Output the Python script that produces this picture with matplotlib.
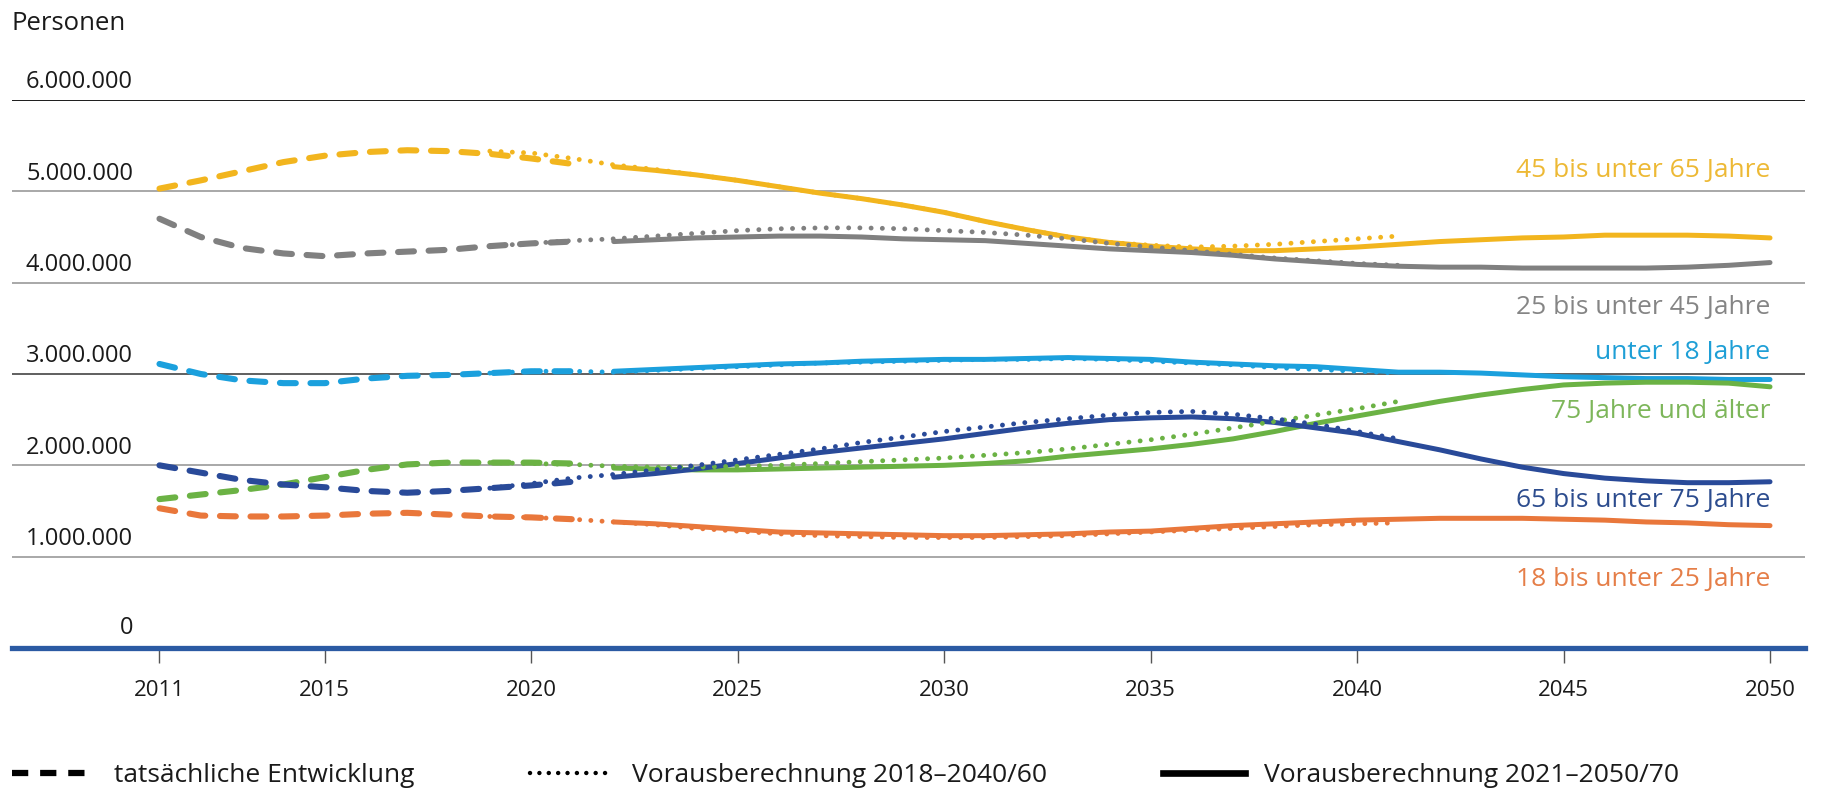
import matplotlib
matplotlib.use("Agg")
import matplotlib.pyplot as plt
from matplotlib.lines import Line2D

plt.rcParams['font.family'] = ['Open Sans', 'DejaVu Sans']

# ---------------- data ----------------
years_actual = list(range(2011, 2022))      # tatsächliche Entwicklung
years_proj18 = list(range(2019, 2042))      # Vorausberechnung 2018–2040/60
years_proj21 = list(range(2022, 2051))      # Vorausberechnung 2021–2050/70

series_names = ["45 bis unter 65 Jahre", "25 bis unter 45 Jahre", "unter 18 Jahre",
                "75 Jahre und älter", "65 bis unter 75 Jahre", "18 bis unter 25 Jahre"]

# values in millions of persons
actual_45_65 = [5.03, 5.12, 5.22, 5.32, 5.39, 5.43, 5.45, 5.44, 5.41, 5.36, 5.30]
actual_25_45 = [4.70, 4.50, 4.38, 4.32, 4.29, 4.32, 4.34, 4.36, 4.40, 4.43, 4.45]
actual_u18   = [3.11, 3.00, 2.93, 2.90, 2.90, 2.95, 2.98, 2.99, 3.01, 3.03, 3.03]
actual_75p   = [1.63, 1.68, 1.73, 1.79, 1.87, 1.95, 2.01, 2.03, 2.03, 2.03, 2.02]
actual_65_75 = [2.00, 1.92, 1.84, 1.79, 1.76, 1.72, 1.70, 1.72, 1.75, 1.78, 1.82]
actual_18_25 = [1.53, 1.45, 1.44, 1.44, 1.45, 1.47, 1.48, 1.46, 1.44, 1.43, 1.41]

proj18_45_65 = [5.44, 5.42, 5.36, 5.29, 5.24, 5.18, 5.12, 5.05, 4.98, 4.92, 4.85, 4.77,
                4.67, 4.58, 4.50, 4.44, 4.41, 4.39, 4.40, 4.42, 4.45, 4.48, 4.51]
proj18_25_45 = [4.40, 4.43, 4.46, 4.48, 4.51, 4.54, 4.57, 4.59, 4.60, 4.60, 4.59, 4.57,
                4.55, 4.52, 4.48, 4.43, 4.39, 4.35, 4.31, 4.27, 4.24, 4.21, 4.19]
proj18_u18   = [3.01, 3.03, 3.03, 3.02, 3.04, 3.06, 3.08, 3.10, 3.12, 3.13, 3.14, 3.15,
                3.16, 3.16, 3.17, 3.16, 3.14, 3.12, 3.10, 3.07, 3.05, 3.03, 3.01]
proj18_75p   = [2.03, 2.02, 2.01, 1.99, 1.98, 1.98, 1.99, 2.00, 2.02, 2.04, 2.06, 2.08,
                2.11, 2.14, 2.18, 2.23, 2.28, 2.34, 2.41, 2.48, 2.55, 2.62, 2.70]
proj18_65_75 = [1.75, 1.80, 1.86, 1.90, 1.95, 2.00, 2.06, 2.12, 2.18, 2.25, 2.31, 2.37,
                2.42, 2.47, 2.51, 2.55, 2.58, 2.59, 2.56, 2.51, 2.45, 2.37, 2.29]
proj18_18_25 = [1.44, 1.43, 1.41, 1.38, 1.35, 1.31, 1.28, 1.25, 1.23, 1.22, 1.21, 1.21,
                1.21, 1.22, 1.23, 1.25, 1.27, 1.29, 1.31, 1.33, 1.35, 1.36, 1.37]

proj21_45_65 = [5.27, 5.23, 5.18, 5.12, 5.05, 4.98, 4.92, 4.85, 4.77, 4.67, 4.58, 4.50,
                4.44, 4.40, 4.37, 4.35, 4.35, 4.37, 4.39, 4.42, 4.45, 4.47, 4.49, 4.50,
                4.52, 4.52, 4.52, 4.51, 4.49]
proj21_25_45 = [4.45, 4.47, 4.49, 4.50, 4.51, 4.51, 4.50, 4.48, 4.47, 4.46, 4.43, 4.40,
                4.37, 4.35, 4.33, 4.30, 4.26, 4.23, 4.20, 4.18, 4.17, 4.17, 4.16, 4.16,
                4.16, 4.16, 4.17, 4.19, 4.22]
proj21_u18   = [3.03, 3.05, 3.07, 3.09, 3.11, 3.12, 3.14, 3.15, 3.16, 3.16, 3.17, 3.18,
                3.17, 3.16, 3.13, 3.11, 3.09, 3.08, 3.05, 3.02, 3.02, 3.01, 2.99, 2.97,
                2.96, 2.95, 2.95, 2.94, 2.94]
proj21_75p   = [1.97, 1.96, 1.95, 1.95, 1.96, 1.97, 1.98, 1.99, 2.00, 2.02, 2.05, 2.10,
                2.14, 2.18, 2.23, 2.29, 2.37, 2.46, 2.54, 2.62, 2.70, 2.77, 2.83, 2.88,
                2.90, 2.91, 2.91, 2.90, 2.86]
proj21_65_75 = [1.87, 1.91, 1.96, 2.02, 2.08, 2.14, 2.19, 2.24, 2.29, 2.35, 2.41, 2.46,
                2.50, 2.52, 2.53, 2.51, 2.47, 2.41, 2.35, 2.26, 2.17, 2.07, 1.98, 1.91,
                1.86, 1.83, 1.81, 1.81, 1.82]
proj21_18_25 = [1.38, 1.36, 1.33, 1.30, 1.27, 1.26, 1.25, 1.24, 1.23, 1.23, 1.24, 1.25,
                1.27, 1.28, 1.31, 1.34, 1.36, 1.38, 1.40, 1.41, 1.42, 1.42, 1.42, 1.41,
                1.40, 1.38, 1.37, 1.35, 1.34]

label_y = [5.23, 3.73, 3.24, 2.59, 1.62, 0.75]   # position of right-hand labels (millions)

x_ticks = [2011, 2015, 2020, 2025, 2030, 2035, 2040, 2045, 2050]
y_ticks = [0, 1, 2, 3, 4, 5, 6]
y_tick_labels = ["0", "1.000.000", "2.000.000", "3.000.000", "4.000.000", "5.000.000", "6.000.000"]
legend_labels = ["tatsächliche Entwicklung", "Vorausberechnung 2018–2040/60",
                 "Vorausberechnung 2021–2050/70"]

colors = ["#F2B51E", "#808080", "#1BA0DD", "#6BB244", "#294A99", "#E9773B"]
label_colors = ["#EDB935", "#858585", "#1E9FD6", "#7DB65A", "#2C4C8E", "#E57E48"]

actual = [actual_45_65, actual_25_45, actual_u18, actual_75p, actual_65_75, actual_18_25]
proj18 = [proj18_45_65, proj18_25_45, proj18_u18, proj18_75p, proj18_65_75, proj18_18_25]
proj21 = [proj21_45_65, proj21_25_45, proj21_u18, proj21_75p, proj21_65_75, proj21_18_25]

# ---------------- figure ----------------
W, H = 1825, 791
fig = plt.figure(figsize=(W / 100, H / 100), dpi=100)
ax_left, ax_right, ax_bottom, ax_top = 12, 1805, 648, 100
ax = fig.add_axes([ax_left / W, 1 - ax_bottom / H, (ax_right - ax_left) / W, (ax_bottom - ax_top) / H])

px_per_year = 41.3
ax.set_xlim(2011 - (159.5 - ax_left) / px_per_year, 2050 + (ax_right - 1770) / px_per_year)
ax.set_ylim(0, 6)

# gridlines
for v in y_ticks[1:]:
    if v == 6:
        c, lw = "#1a1a1a", 1.4
    elif v == 3:
        c, lw = "#444444", 1.2
    else:
        c, lw = "#9a9a9a", 1.2
    ax.axhline(v, color=c, lw=lw, zorder=1)

# y labels above gridlines
ylab_x = (133 - ax_left) / (ax_right - ax_left)
for v, t in zip(y_ticks, y_tick_labels):
    ax.annotate(t, xy=(ylab_x, v), xycoords=ax.get_yaxis_transform(),
                xytext=(0, 4 if v > 0 else 6), textcoords="offset points",
                ha="right", va="bottom", fontsize=17, color="#1a1a1a")

dash_style = (0, (2.6, 2.4))
dot_style = (0, (0.01, 2.3))
for i in range(6):
    ax.plot(years_actual, actual[i], color=colors[i], lw=4.4, linestyle=dash_style,
            dash_capstyle="round", zorder=3)
    ax.plot(years_proj21, proj21[i], color=colors[i], lw=3.6, solid_capstyle="round", zorder=3)
    ax.plot(years_proj18, proj18[i], color=colors[i], lw=3.5, linestyle=dot_style,
            dash_capstyle="round", zorder=4)
    ax.text(2050, label_y[i], series_names[i], ha="right", va="center",
            fontsize=19, color=label_colors[i], zorder=5)

# axes styling
for s in ["top", "right", "left"]:
    ax.spines[s].set_visible(False)
ax.spines["bottom"].set_color("#2B5AA3")
ax.spines["bottom"].set_linewidth(3.8)
ax.spines["bottom"].set_zorder(6)
ax.set_yticks([])
ax.set_xticks(x_ticks)
ax.set_xticklabels([str(x) for x in x_ticks])
ax.tick_params(axis="x", length=11, width=1, color="#555555", pad=12,
               labelsize=16, labelcolor="#1a1a1a")

fig.text(ax_left / W, 1 - 23 / H, "Personen", ha="left", va="center", fontsize=18.5, color="#1a1a1a")

# legend
handles = [Line2D([], [], color="black", lw=4.5, linestyle=(0, (2.6, 1.9)), dash_capstyle="butt"),
           Line2D([], [], color="black", lw=3.2, linestyle=(0, (0.01, 2.1)), dash_capstyle="round"),
           Line2D([], [], color="black", lw=4.8)]
leg = ax.legend(handles, legend_labels, ncol=3, loc="center left",
                bbox_to_anchor=(12 / W, 1 - 776 / H), bbox_transform=fig.transFigure,
                frameon=False, borderaxespad=0, borderpad=0, handlelength=3.1,
                handletextpad=0.75, columnspacing=4.4, fontsize=19)
for t in leg.get_texts():
    t.set_color("#1a1a1a")

fig.savefig("out.png", dpi=100, facecolor="white")
